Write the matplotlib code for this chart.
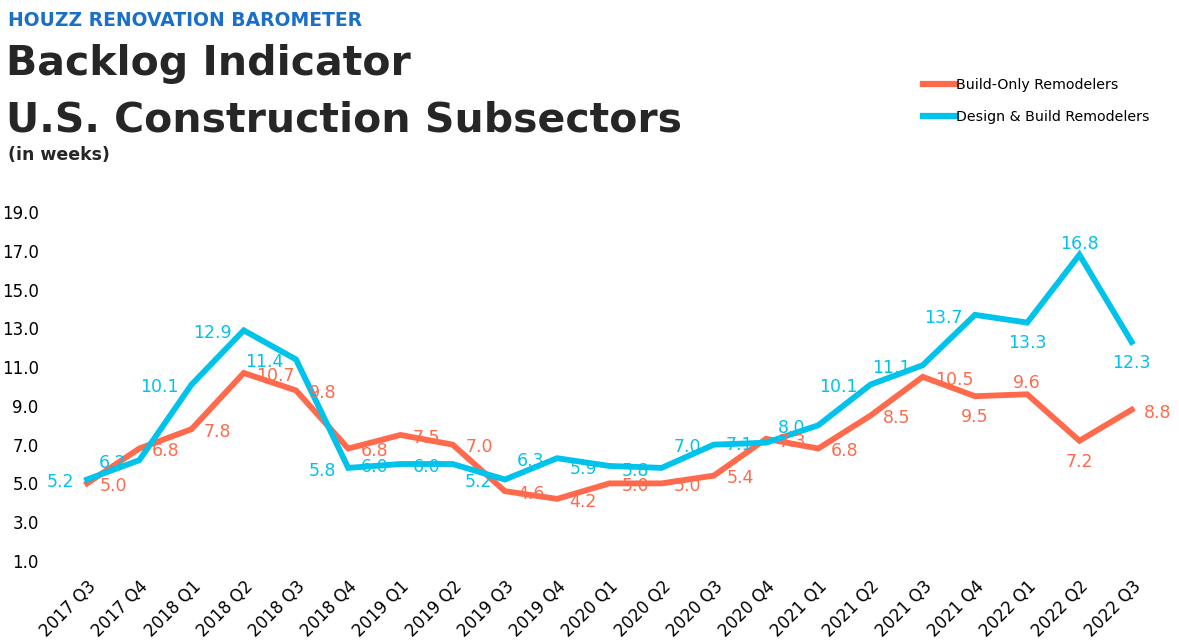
import matplotlib
matplotlib.use("Agg")
import matplotlib.pyplot as plt

quarters = ["2017 Q3", "2017 Q4", "2018 Q1", "2018 Q2", "2018 Q3", "2018 Q4",
            "2019 Q1", "2019 Q2", "2019 Q3", "2019 Q4", "2020 Q1", "2020 Q2",
            "2020 Q3", "2020 Q4", "2021 Q1", "2021 Q2", "2021 Q3", "2021 Q4",
            "2022 Q1", "2022 Q2", "2022 Q3"]
build_only = [5.0, 6.8, 7.8, 10.7, 9.8, 6.8, 7.5, 7.0, 4.6, 4.2, 5.0, 5.0,
              5.4, 7.3, 6.8, 8.5, 10.5, 9.5, 9.6, 7.2, 8.8]
design_build = [5.2, 6.2, 10.1, 12.9, 11.4, 5.8, 6.0, 6.0, 5.2, 6.3, 5.9, 5.8,
                7.0, 7.1, 8.0, 10.1, 11.1, 13.7, 13.3, 16.8, 12.3]
y_ticks = [1, 3, 5, 7, 9, 11, 13, 15, 17, 19]

RED = "#ff6a4d"
BLUE = "#00c3eb"
DARK = "#262626"

plt.rcParams["font.family"] = ["DejaVu Sans"]

fig = plt.figure(figsize=(11.79, 6.41), dpi=100)
ax = fig.add_axes([0.0517, 0.125, 0.9303, 0.544])

x = list(range(len(quarters)))
ax.plot(x, build_only, color=RED, lw=4.2, solid_joinstyle="miter",
        label="Build-Only Remodelers", clip_on=False)
ax.plot(x, design_build, color=BLUE, lw=4.2, solid_joinstyle="miter",
        label="Design & Build Remodelers", clip_on=False)

# label placement like the Excel original: red right, blue left, a few above/below
red_below = {"2021 Q4", "2022 Q2"}
red_above = {"2022 Q1"}
blue_below = {"2022 Q1", "2022 Q3"}
blue_above = {"2022 Q2"}

def place(q, v, color, side, below, above):
    if q in below:
        xy, ha = (0, -15), "center"
    elif q in above:
        xy, ha = (0, 8), "center"
    elif side == "right":
        xy, ha = (9, -2), "left"
    else:
        xy, ha = (-9, -2), "right"
    ax.annotate(f"{v:.1f}", (quarters.index(q), v), xytext=xy,
                textcoords="offset points", ha=ha, va="center",
                color=color, fontsize=12.5)

for q, v in zip(quarters, build_only):
    place(q, v, RED, "right", red_below, red_above)
for q, v in zip(quarters, design_build):
    place(q, v, BLUE, "left", blue_below, blue_above)

ax.set_xlim(-0.5, len(quarters) - 0.5)
ax.set_ylim(1, 19)
ax.set_yticks(y_ticks)
ax.set_yticklabels([f"{t:.1f}" for t in y_ticks])
ax.set_xticks(x)
ax.set_xticklabels(quarters, rotation=45, ha="right", rotation_mode="anchor")
ax.tick_params(axis="y", length=0, pad=16, labelsize=12, colors="black")
ax.tick_params(axis="x", length=0, pad=12, labelsize=12, colors="black")
for s in ax.spines.values():
    s.set_visible(False)

fig.text(0.0068, 0.96, "HOUZZ RENOVATION BAROMETER", color="#1a6fc7",
         fontsize=13.5, fontweight="bold", va="baseline")
fig.text(0.0055, 0.883, "Backlog Indicator", color=DARK,
         fontsize=29.5, fontweight="bold", va="baseline")
fig.text(0.0055, 0.795, "U.S. Construction Subsectors", color=DARK,
         fontsize=29.5, fontweight="bold", va="baseline")
fig.text(0.0068, 0.75, "(in weeks)", color=DARK,
         fontsize=12.5, fontweight="bold", va="baseline")

leg = fig.legend(loc="upper left", bbox_to_anchor=(0.772, 0.898), frameon=False,
                 fontsize=10.2, handlelength=2.3, handletextpad=0.05,
                 labelspacing=1.25)
for line in leg.get_lines():
    line.set_linewidth(4.5)

fig.savefig("out.png", dpi=100)
